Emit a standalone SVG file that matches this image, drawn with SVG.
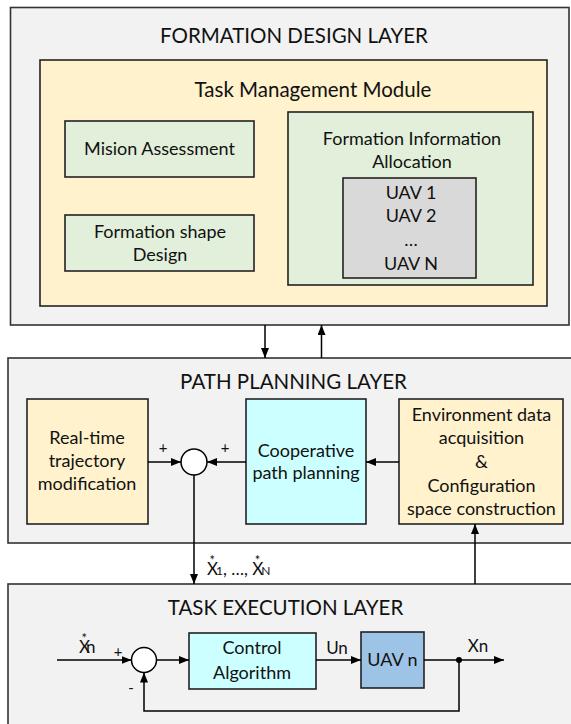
<svg xmlns="http://www.w3.org/2000/svg" width="571" height="724" viewBox="0 0 571 724">
<defs>
<marker id="ah" viewBox="0 0 10 8" refX="10" refY="4" markerWidth="10" markerHeight="8" markerUnits="userSpaceOnUse" orient="auto">
<path d="M0,0 L10,4 L0,8 Z" fill="#000"/>
</marker>
<style>
text{font-family:Lato,"Open Sans","Liberation Sans",sans-serif;fill:#111;text-anchor:middle}
.layer{fill:#f2f2f2;stroke:#333;stroke-width:1.6}
.box{stroke:#222;stroke-width:1.6}
.yel{fill:#fff2cc}
.grn{fill:#e2efda}
.gry{fill:#d9d9d9}
.cyn{fill:#ccffff}
.blu{fill:#9dc3e6}
.t1{font-size:20.5px}
.t2{font-size:18px}
.t3{font-size:17px}
.t4{font-size:15px}
.s{text-anchor:start}
.c{fill:none;stroke:#000;stroke-width:1.5}
.a{marker-end:url(#ah)}
</style>
</defs>
<g id="formation-layer">
<rect class="layer" x="10.5" y="7.5" width="558.5" height="317.5"/>
<text class="t1" x="294" y="43">FORMATION DESIGN LAYER</text>
</g>
<g id="task-management">
<rect class="box yel" x="40" y="60" width="507" height="246"/>
<text class="t1" x="313" y="97">Task Management Module</text>
</g>
<g id="mission-assessment">
<rect class="box grn" x="65" y="121" width="189" height="56"/>
<text class="t2" x="159.5" y="155">Mision Assessment</text>
</g>
<g id="formation-shape">
<rect class="box grn" x="65" y="215" width="189" height="56"/>
<text class="t2" x="160" y="238">Formation shape</text>
<text class="t2" x="160" y="261">Design</text>
</g>
<g id="formation-info">
<rect class="box grn" x="288" y="112" width="245" height="173"/>
<text class="t2" x="412" y="145">Formation Information</text>
<text class="t2" x="412" y="168">Allocation</text>
</g>
<g id="uav-list">
<rect class="box gry" x="343" y="178" width="133" height="100"/>
<text class="t2" x="411" y="199">UAV 1</text>
<text class="t2" x="411" y="222">UAV 2</text>
<text class="t2" x="411" y="246">…</text>
<text class="t2" x="411" y="270">UAV N</text>
</g>
<g id="path-layer">
<rect class="layer" x="8" y="358" width="570" height="185"/>
<text class="t1" x="293.5" y="389">PATH PLANNING LAYER</text>
</g>
<g id="realtime">
<rect class="box yel" x="27" y="399" width="121" height="125"/>
<text class="t2" x="87" y="444">Real-time</text>
<text class="t2" x="87" y="467">trajectory</text>
<text class="t2" x="87" y="490">modification</text>
</g>
<g id="sum1">
<circle cx="194" cy="462" r="13" fill="#fff" stroke="#000" stroke-width="1.5"/>
</g>
<g id="cooperative">
<rect class="box cyn" x="246" y="399" width="120" height="125"/>
<text class="t2" x="306" y="457">Cooperative</text>
<text class="t2" x="306" y="479">path planning</text>
</g>
<g id="environment">
<rect class="box yel" x="399" y="399" width="164" height="125"/>
<text class="t2" x="481.5" y="421">Environment data</text>
<text class="t2" x="481.5" y="444">acquisition</text>
<text class="t2" x="481.5" y="468">&amp;</text>
<text class="t2" x="481.5" y="492">Configuration</text>
<text class="t2" x="481.5" y="515">space construction</text>
</g>
<g id="execution-layer">
<rect class="layer" x="8" y="584" width="570" height="150"/>
<text class="t1" x="285.5" y="615">TASK EXECUTION LAYER</text>
</g>
<g id="sum2">
<circle cx="144" cy="660" r="12.5" fill="#fff" stroke="#000" stroke-width="1.5"/>
</g>
<g id="control">
<rect class="box cyn" x="189" y="633" width="127" height="56"/>
<text class="t2" x="252" y="654">Control</text>
<text class="t2" x="252" y="679">Algorithm</text>
</g>
<g id="uav-n">
<rect class="box blu" x="361" y="632" width="63" height="56"/>
<text class="t2" x="392.5" y="666">UAV n</text>
</g>
<g id="connectors">
<line class="c a" x1="265" y1="325" x2="265" y2="358"/>
<line class="c a" x1="321.5" y1="358" x2="321.5" y2="325"/>
<line class="c a" x1="148" y1="462" x2="181" y2="462"/>
<line class="c a" x1="246" y1="462" x2="207" y2="462"/>
<line class="c a" x1="399" y1="462" x2="366" y2="462"/>
<line class="c a" x1="194" y1="475" x2="194" y2="584"/>
<line class="c a" x1="475" y1="584" x2="475" y2="524"/>
<line class="c a" x1="57" y1="660" x2="131.5" y2="660"/>
<line class="c a" x1="156.5" y1="660" x2="189" y2="660"/>
<line class="c a" x1="316" y1="660" x2="361" y2="660"/>
<line class="c a" x1="424" y1="660" x2="504" y2="660"/>
<polyline class="c a" points="459,660 459,711 144,711 144,672.5"/>
<circle cx="459" cy="660" r="3" fill="#000"/>
<text class="t4" x="163" y="453">+</text>
<text class="t4" x="225" y="453">+</text>
<text class="t4" x="118" y="657">+</text>
<text class="t4" x="131" y="693">-</text>
<text class="t3" x="337" y="654">Un</text>
<text class="t3" x="478" y="652">Xn</text>
<text class="t3 s" x="79" y="653">X<tspan font-size="13" dx="-8.5" dy="-10">*</tspan><tspan dx="-1" dy="10">n</tspan></text>
<text class="t3 s" x="207" y="575">X<tspan font-size="13" dx="-8.5" dy="-10">*</tspan><tspan font-size="12" dx="1" dy="10">1</tspan>, …, X<tspan font-size="13" dx="-8.5" dy="-10">*</tspan><tspan font-size="12" dx="1" dy="10">N</tspan></text>
</g>
</svg>
